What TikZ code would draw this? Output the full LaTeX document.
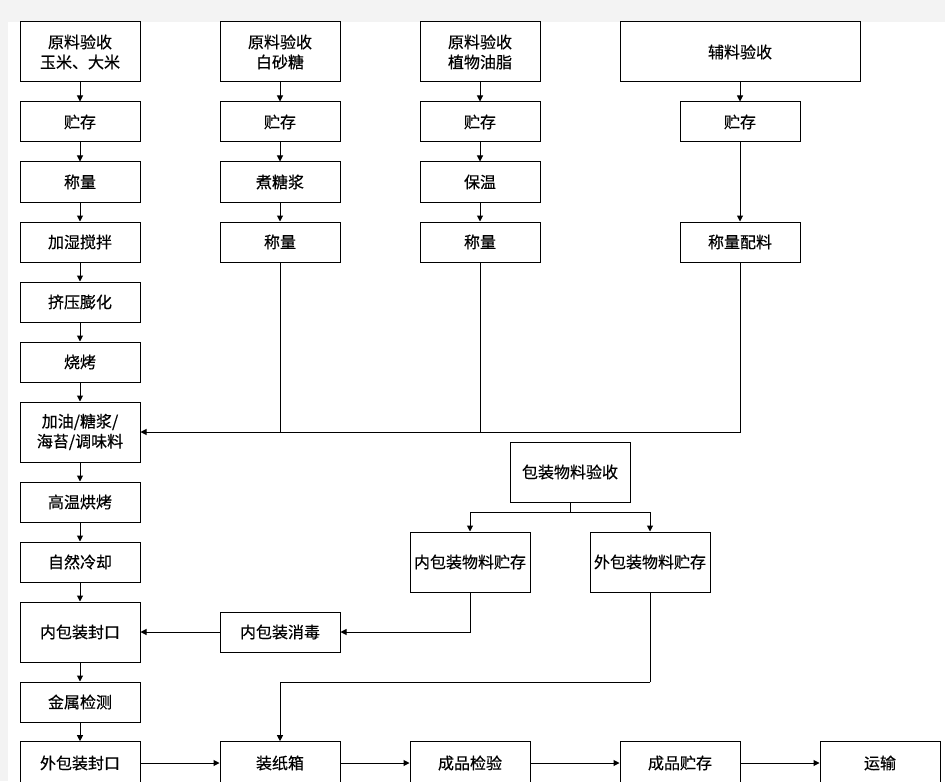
\documentclass[tikz,border=0pt]{standalone}
\usepackage{fontspec}
\newfontfamily\cjk[FakeBold=0.5]{Noto Sans CJK SC}
\usetikzlibrary{arrows.meta}
\definecolor{bggray}{HTML}{F3F3F3}
\begin{document}
\begin{tikzpicture}[x=0.75pt,y=-0.75pt,
  box/.style={draw, line width=0.75pt, minimum width=90pt, minimum height=30pt, inner sep=0pt, align=center, font=\cjk\fontsize{12pt}{15pt}\selectfont},
  tall/.style={minimum height=45pt},
  wide/.style={minimum width=180pt},
  low/.style={minimum height=32pt},
  arr/.style={line width=0.75pt, -{Triangle[length=4.5pt,width=4.5pt]}},
  ln/.style={line width=0.75pt}]
\useasboundingbox (0,0) rectangle (945,781);
\fill[bggray] (0,0) rectangle (945,781);
\fill[white] (8,22) rectangle (945,781);
\begin{scope}
\clip (0,0) rectangle (945,781);
% column 1
\node[box,tall] (a1) at (80,52) {原料验收\\玉米、大米};
\node[box] (a2) at (80,122) {贮存};
\node[box] (a3) at (80,182) {称量};
\node[box] (a4) at (80,242) {加湿搅拌};
\node[box] (a5) at (80,302) {挤压膨化};
\node[box] (a6) at (80,362) {烧烤};
\node[box,tall] (a7) at (80,432) {加油/糖浆/\\海苔/调味料};
\node[box] (a8) at (80,502) {高温烘烤};
\node[box] (a9) at (80,562) {自然冷却};
\node[box,tall] (a10) at (80,632) {内包装封口};
\node[box] (a11) at (80,702) {金属检测};
\node[box,low] (a12) at (80,763) {外包装封口};
% column 2
\node[box,tall] (b1) at (280,52) {原料验收\\白砂糖};
\node[box] (b2) at (280,122) {贮存};
\node[box] (b3) at (280,182) {煮糖浆};
\node[box] (b4) at (280,242) {称量};
% column 3
\node[box,tall] (c1) at (480,52) {原料验收\\植物油脂};
\node[box] (c2) at (480,122) {贮存};
\node[box] (c3) at (480,182) {保温};
\node[box] (c4) at (480,242) {称量};
% column 4
\node[box,tall,wide] (d1) at (740,52) {辅料验收};
\node[box] (d2) at (740,122) {贮存};
\node[box] (d3) at (740,242) {称量配料};
% packaging
\node[box,tall] (p1) at (570,472) {包装物料验收};
\node[box,tall] (p2) at (470,562) {内包装物料贮存};
\node[box,tall] (p3) at (650,562) {外包装物料贮存};
\node[box] (s1) at (280,632) {内包装消毒};
% bottom row
\node[box,low] (e1) at (280,763) {装纸箱};
\node[box,low] (e2) at (470,763) {成品检验};
\node[box,low] (e3) at (680,763) {成品贮存};
\node[box,low] (e4) at (880,763) {运输};
\coordinate (k) at (650,682);
\coordinate (j) at (570,512);
% connectors
\foreach \u/\v in {a1/a2,a2/a3,a3/a4,a4/a5,a5/a6,a6/a7,a7/a8,a8/a9,a9/a10,a10/a11,a11/a12,
  b1/b2,b2/b3,b3/b4,c1/c2,c2/c3,c3/c4,d1/d2,d2/d3,a12/e1,e1/e2,e2/e3,e3/e4,s1/a10}
  \draw[arr] (\u) -- (\v);
\draw[arr] (d3.south) |- (a7.east);
\draw[ln] (b4.south) -- (b4.south |- a7.east);
\draw[ln] (c4.south) -- (c4.south |- a7.east);
\draw[ln] (p1.south) -- (j);
\draw[arr] (j) -| (p2.north);
\draw[arr] (j) -| (p3.north);
\draw[arr] (p2.south) |- (s1.east);
\draw[ln] (p3.south) -- (k);
\draw[arr] (k) -| (e1.north);
\end{scope}
\end{tikzpicture}
\end{document}
